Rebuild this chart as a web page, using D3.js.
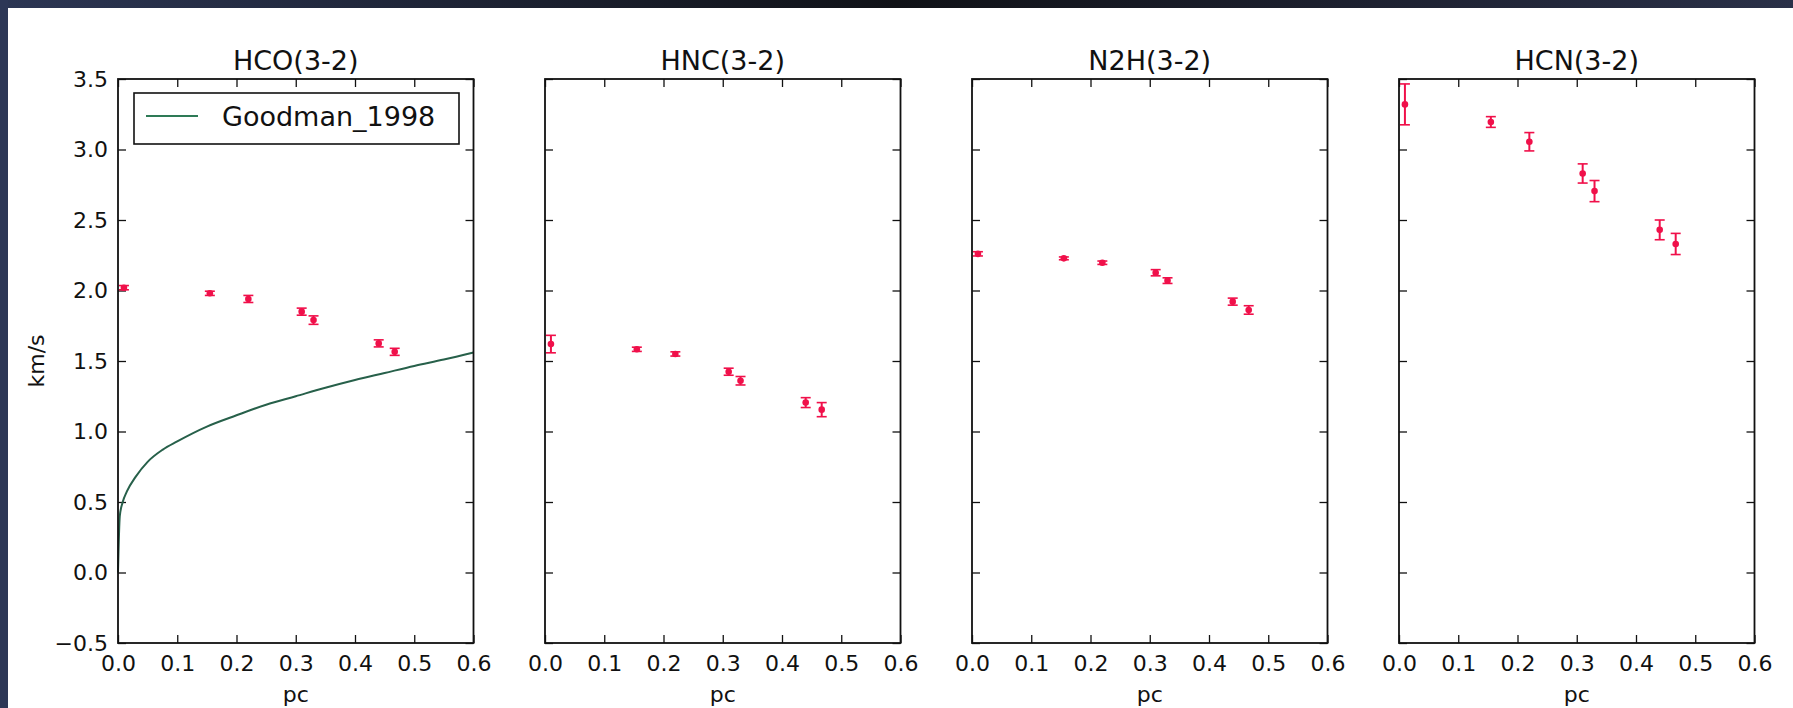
<!DOCTYPE html>
<html>
<head>
<meta charset="utf-8">
<script src="https://cdn.jsdelivr.net/npm/d3@7"></script>
<style>
  body { margin: 0; background: #fff; }
  svg { display: block; }
  text { font-family: "DejaVu Sans", sans-serif; fill: #111; }
</style>
</head>
<body>
<script>
// ---- data ----
var panels = ["HCO(3-2)", "HNC(3-2)", "N2H(3-2)", "HCN(3-2)"];
var radius = [0.01, 0.155, 0.22, 0.31, 0.33, 0.44, 0.467];

var hcoVel = [2.02, 1.98, 1.94, 1.85, 1.79, 1.625, 1.565];
var hcoErr = [0.015, 0.015, 0.025, 0.025, 0.03, 0.025, 0.025];
var hncVel = [1.62, 1.583, 1.55, 1.424, 1.36, 1.205, 1.155];
var hncErr = [0.062, 0.015, 0.015, 0.025, 0.03, 0.035, 0.05];
var n2hVel = [2.26, 2.228, 2.197, 2.126, 2.07, 1.921, 1.862];
var n2hErr = [0.015, 0.01, 0.012, 0.022, 0.02, 0.025, 0.03];
var hcnVel = [3.32, 3.195, 3.055, 2.83, 2.705, 2.43, 2.33];
var hcnErr = [0.145, 0.038, 0.065, 0.068, 0.075, 0.07, 0.075];

var series = [[hcoVel, hcoErr], [hncVel, hncErr], [n2hVel, n2hErr], [hcnVel, hcnErr]];

// Goodman_1998 curve, sampled off the first panel
var goodmanPc  = [0, 0.003, 0.008, 0.015, 0.03, 0.05, 0.075, 0.1, 0.15, 0.2, 0.25, 0.3, 0.35, 0.4, 0.45, 0.5, 0.55, 0.6];
var goodmanVel = [0, 0.4, 0.5, 0.575, 0.68, 0.785, 0.87, 0.93, 1.035, 1.115, 1.19, 1.25, 1.31, 1.365, 1.415, 1.465, 1.51, 1.56];

var xTicks = [0, 0.1, 0.2, 0.3, 0.4, 0.5, 0.6];
var yTicks = [-0.5, 0, 0.5, 1.0, 1.5, 2.0, 2.5, 3.0, 3.5];

// ---- layout ----
var width = 1793, height = 708;
var plotTop = 79, plotBottom = 643;
var panelW = 355.5, step = 427, firstLeft = 118;
var red = "#f0104a", green = "#27604a";

var svg = d3.select("body").append("svg").attr("width", width).attr("height", height);

var grad = svg.append("defs").append("linearGradient").attr("id", "band");
grad.append("stop").attr("offset", "0%").attr("stop-color", "#2c3654");
grad.append("stop").attr("offset", "50%").attr("stop-color", "#101217");
grad.append("stop").attr("offset", "100%").attr("stop-color", "#2a3048");

svg.append("rect").attr("width", width).attr("height", height).attr("fill", "#fff");
svg.append("rect").attr("width", width).attr("height", 8).attr("fill", "url(#band)");
svg.append("rect").attr("width", 8).attr("height", height).attr("fill", "#2d3756");

var y = d3.scaleLinear().domain([-0.5, 3.5]).range([plotBottom, plotTop]);

panels.forEach(function (name, i) {
    var left = firstLeft + i * step;
    var x = d3.scaleLinear().domain([0, 0.6]).range([left, left + panelW]);
    var g = svg.append("g");

    var xb = g.append("g").attr("transform", "translate(0," + plotBottom + ")")
        .call(d3.axisBottom(x).tickValues(xTicks).tickFormat(d3.format(".1f")).tickSize(-8).tickSizeOuter(0).tickPadding(12));
    var xt = g.append("g").attr("transform", "translate(0," + plotTop + ")")
        .call(d3.axisTop(x).tickValues(xTicks).tickFormat("").tickSize(-8).tickSizeOuter(0));
    var yl = g.append("g").attr("transform", "translate(" + left + ",0)")
        .call(d3.axisLeft(y).tickValues(yTicks).tickFormat(i === 0 ? d3.format(".1f") : "").tickSize(-8).tickSizeOuter(0).tickPadding(10));
    var yr = g.append("g").attr("transform", "translate(" + (left + panelW) + ",0)")
        .call(d3.axisRight(y).tickValues(yTicks).tickFormat("").tickSize(-8).tickSizeOuter(0));

    [xb, xt, yl, yr].forEach(function (a) {
        a.select(".domain").remove();
        a.selectAll(".tick line").attr("stroke", "#111").attr("stroke-width", 1.3);
        a.selectAll(".tick text").style("font-size", "22px").attr("fill", "#111");
    });

    // goodman model only on first panel
    if (i === 0) {
        var line = d3.line().x(function (d) { return x(d[0]); }).y(function (d) { return y(d[1]); })
            .curve(d3.curveMonotoneX);
        g.append("path").datum(d3.zip(goodmanPc, goodmanVel)).attr("d", line)
            .attr("fill", "none").attr("stroke", green).attr("stroke-width", 2);
    }

    var vel = series[i][0], err = series[i][1];
    var pts = radius.map(function (r, k) { return { r: r, v: vel[k], e: err[k] }; });
    var eb = g.selectAll(".eb").data(pts).enter().append("g").attr("class", "eb");
    eb.append("line")
        .attr("x1", function (d) { return x(d.r); }).attr("x2", function (d) { return x(d.r); })
        .attr("y1", function (d) { return y(d.v - d.e); }).attr("y2", function (d) { return y(d.v + d.e); })
        .attr("stroke", red).attr("stroke-width", 2);
    [-1, 1].forEach(function (s) {
        eb.append("line")
            .attr("x1", function (d) { return x(d.r) - 5; }).attr("x2", function (d) { return x(d.r) + 5; })
            .attr("y1", function (d) { return y(d.v + s * d.e); }).attr("y2", function (d) { return y(d.v + s * d.e); })
            .attr("stroke", red).attr("stroke-width", 1.6);
    });
    eb.append("circle").attr("cx", function (d) { return x(d.r); }).attr("cy", function (d) { return y(d.v); })
        .attr("r", 3.3).attr("fill", red);

    g.append("rect").attr("x", left).attr("y", plotTop).attr("width", panelW).attr("height", plotBottom - plotTop)
        .attr("fill", "none").attr("stroke", "#111").attr("stroke-width", 1.8);

    g.append("text").attr("x", left + panelW / 2).attr("y", plotTop - 9).attr("text-anchor", "middle")
        .style("font-size", "27px").text(name);
    g.append("text").attr("x", left + panelW / 2).attr("y", 702).attr("text-anchor", "middle")
        .style("font-size", "22px").text("pc");

    if (i === 0) {
        // legend
        var lg = g.append("g");
        lg.append("rect").attr("x", 134).attr("y", 93).attr("width", 325).attr("height", 51)
            .attr("fill", "#fff").attr("stroke", "#111").attr("stroke-width", 1.6);
        lg.append("line").attr("x1", 146).attr("x2", 198).attr("y1", 116).attr("y2", 116)
            .attr("stroke", "#2e7a56").attr("stroke-width", 2);
        lg.append("text").attr("x", 222).attr("y", 125.5).style("font-size", "27px").text("Goodman_1998");
    }
});

svg.append("text").attr("transform", "translate(44," + ((plotTop + plotBottom) / 2) + ") rotate(-90)")
    .attr("text-anchor", "middle").style("font-size", "22px").text("km/s");
</script>
</body>
</html>
